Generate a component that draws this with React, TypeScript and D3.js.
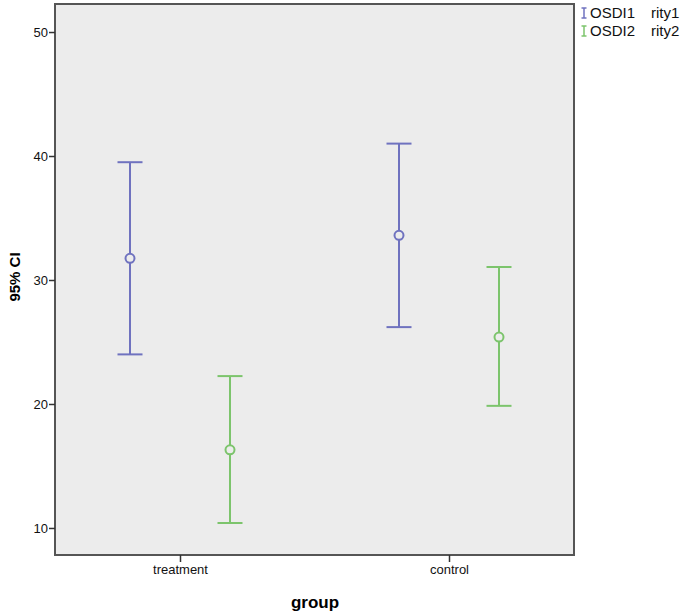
import React, { useEffect, useRef } from 'react';
import * as d3 from 'd3';

// group means with 95% CI
const groups = ['treatment', 'control'];
const seriesNames = ['OSDI1', 'OSDI2'];
const legendSuffix = ['rity1', 'rity2'];
const means1 = [31.75, 33.6];
const lower1 = [24.0, 26.2];
const upper1 = [39.5, 41.0];
const means2 = [16.3, 25.4];
const lower2 = [10.4, 19.85];
const upper2 = [22.25, 31.05];
const yTicks = [10, 20, 30, 40, 50];

const colors = ['#6f72bf', '#7cc46c'];

const width = 685;
const height = 616;
const margin = { top: 4, right: 111, bottom: 61, left: 55 };

const App = () => {
  const chartRef = useRef(null);

  useEffect(() => {
    const svg = d3.select(chartRef.current);
    svg.selectAll('*').remove();

    const x0 = margin.left;
    const x1 = width - margin.right;
    const y0 = margin.top;
    const y1 = height - margin.bottom;

    const yScale = d3.scaleLinear().domain([7.82, 52.26]).range([y1, y0]);
    const xScale = d3.scalePoint().domain(groups).range([180, 449]);
    const offset = d3.scalePoint().domain(seriesNames).range([-50, 50]);

    // plot background and frame
    svg.append('rect')
      .attr('x', x0).attr('y', y0)
      .attr('width', x1 - x0).attr('height', y1 - y0)
      .attr('fill', '#ececec')
      .attr('stroke', '#555')
      .attr('stroke-width', 2);

    const font = 'Arial, "Liberation Sans", sans-serif';

    // y axis
    const yAxis = svg.append('g')
      .attr('transform', `translate(${x0}, 0)`)
      .call(d3.axisLeft(yScale).tickValues(yTicks).tickSize(6).tickPadding(1));
    yAxis.select('.domain').remove();
    yAxis.selectAll('line').attr('stroke', '#333').attr('stroke-width', 1.5);
    yAxis.selectAll('text')
      .attr('font-family', font).attr('font-size', 13).attr('fill', '#111');

    // x axis
    const xAxis = svg.append('g')
      .attr('transform', `translate(0, ${y1})`)
      .call(d3.axisBottom(xScale).tickSize(7).tickPadding(3));
    xAxis.select('.domain').remove();
    xAxis.selectAll('line').attr('stroke', '#333').attr('stroke-width', 1.5);
    xAxis.selectAll('text')
      .attr('font-family', font).attr('font-size', 13).attr('fill', '#111');

    // axis titles
    svg.append('text')
      .attr('x', 315).attr('y', 608)
      .attr('text-anchor', 'middle')
      .attr('font-family', font).attr('font-size', 17).attr('font-weight', 'bold')
      .text('group');

    svg.append('text')
      .attr('transform', 'translate(15, 277) rotate(-90)')
      .attr('text-anchor', 'middle')
      .attr('dy', '0.35em')
      .attr('font-family', font).attr('font-size', 15).attr('font-weight', 'bold')
      .text('95% CI');

    const series = [
      { name: seriesNames[0], mean: means1, lo: lower1, hi: upper1, color: colors[0] },
      { name: seriesNames[1], mean: means2, lo: lower2, hi: upper2, color: colors[1] },
    ];
    const capW = 12.5;

    series.forEach(s => {
      const g = svg.append('g').attr('stroke', s.color).attr('fill', 'none').attr('stroke-width', 2);
      groups.forEach((grp, i) => {
        const cx = xScale(grp) + offset(s.name);
        g.append('line')
          .attr('x1', cx).attr('x2', cx)
          .attr('y1', yScale(s.lo[i])).attr('y2', yScale(s.hi[i]));
        g.append('line')
          .attr('x1', cx - capW).attr('x2', cx + capW)
          .attr('y1', yScale(s.hi[i])).attr('y2', yScale(s.hi[i]));
        g.append('line')
          .attr('x1', cx - capW).attr('x2', cx + capW)
          .attr('y1', yScale(s.lo[i])).attr('y2', yScale(s.lo[i]));
        g.append('circle')
          .attr('cx', cx).attr('cy', yScale(s.mean[i]))
          .attr('r', 4.5)
          .attr('fill', '#ececec');
      });
    });

    // legend
    series.forEach((s, i) => {
      const ly = 13 + i * 18;
      const lg = svg.append('g').attr('stroke', s.color).attr('stroke-width', 1.5);
      lg.append('line').attr('x1', 584).attr('x2', 584).attr('y1', ly - 5).attr('y2', ly + 5);
      lg.append('line').attr('x1', 581.5).attr('x2', 586.5).attr('y1', ly - 5).attr('y2', ly - 5);
      lg.append('line').attr('x1', 581.5).attr('x2', 586.5).attr('y1', ly + 5).attr('y2', ly + 5);
      svg.append('text')
        .attr('x', 590).attr('y', ly).attr('dy', '0.35em')
        .attr('font-family', font).attr('font-size', 15).attr('fill', '#111')
        .text(s.name);
      svg.append('text')
        .attr('x', 651).attr('y', ly).attr('dy', '0.35em')
        .attr('font-family', font).attr('font-size', 15).attr('fill', '#111')
        .text(legendSuffix[i]);
    });
  });

  return (
    <svg
      width={width}
      height={height}
      viewBox={`0 0 ${width} ${height}`}
      ref={chartRef}
      style={{ display: 'block', position: 'absolute', left: 0, top: 0 }}
    />
  );
};

export default App;
